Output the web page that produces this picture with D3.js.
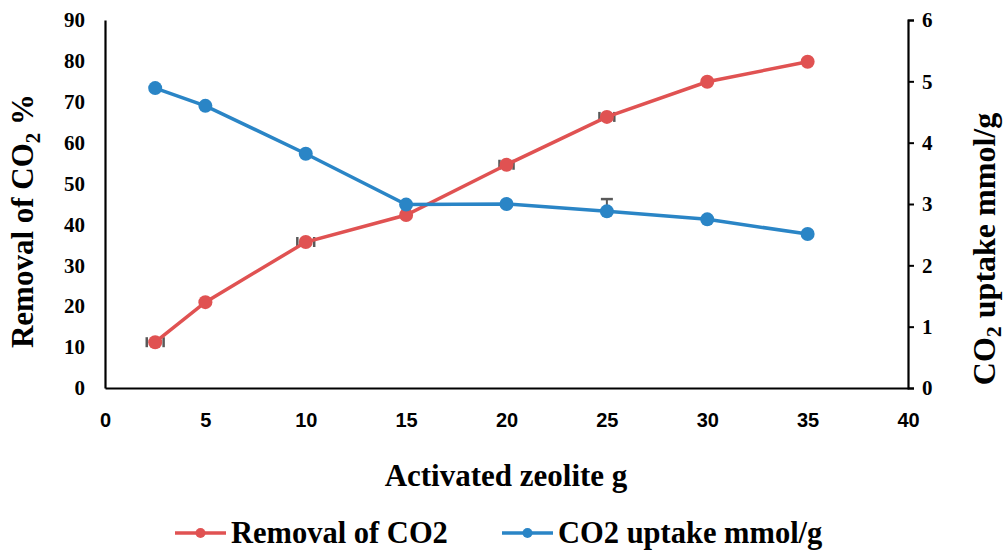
<!DOCTYPE html>
<html>
<head>
<meta charset="utf-8">
<script src="https://cdn.jsdelivr.net/npm/d3@7"></script>
<style>
  body { margin: 0; background: #fff; }
  svg { display: block; }
  .serif { font-family: "Liberation Serif", "Times New Roman", serif; font-weight: bold; }
  .narrow { font-family: "Liberation Sans Narrow", "Liberation Sans", Arial, sans-serif; font-weight: bold; }
</style>
</head>
<body>
<div id="chart"></div>
<script>
// data
const dose = [2.5, 5, 10, 15, 20, 25, 30, 35];
const removal = [11.2, 21.0, 35.7, 42.3, 54.6, 66.3, 74.9, 79.8];
const uptake = [4.89, 4.60, 3.82, 2.99, 3.00, 2.88, 2.75, 2.51];
// small error bars seen on the picture
const removalErrX = [0.42, 0, 0.42, 0, 0.35, 0.37, 0, 0];
const uptakeErrY = [0, 0, 0, 0, 0, 0.2, 0, 0];
const xTicks = [0, 5, 10, 15, 20, 25, 30, 35, 40];
const yLeftTicks = [0, 10, 20, 30, 40, 50, 60, 70, 80, 90];
const yRightTicks = [0, 1, 2, 3, 4, 5, 6];

const red = '#e05252', blue = '#2a85c6', grey = '#595959';

const width = 1006, height = 550;
const margin = { top: 20, right: 98, bottom: 162, left: 105 };
const innerW = width - margin.left - margin.right,
    innerH = height - margin.top - margin.bottom;

const svg = d3.select('#chart').append('svg')
    .attr('width', width)
    .attr('height', height);

const g = svg.append('g')
    .attr('transform', `translate(${margin.left},${margin.top})`);

const x = d3.scaleLinear().domain([0, 40]).range([0, innerW]);
const yL = d3.scaleLinear().domain([0, 90]).range([innerH, 0]);
const yR = d3.scaleLinear().domain([0, 6]).range([innerH, 0]);

// axes
const xAxis = g.append('g')
    .attr('transform', `translate(0,${innerH})`)
    .call(d3.axisBottom(x).tickValues(xTicks).tickSize(0).tickPadding(25));
xAxis.select('.domain').attr('stroke', '#000').attr('stroke-width', 2.2);
xAxis.selectAll('text').attr('class', 'narrow').attr('font-size', 20).attr('fill', '#000');

const yAxisL = g.append('g')
    .call(d3.axisLeft(yL).tickValues(yLeftTicks).tickSize(0).tickPadding(20));
yAxisL.select('.domain').attr('stroke', '#000').attr('stroke-width', 2.2);
yAxisL.selectAll('text').attr('class', 'serif').attr('font-size', 21).attr('fill', '#000');

const yAxisR = g.append('g')
    .attr('transform', `translate(${innerW},0)`)
    .call(d3.axisRight(yR).tickValues(yRightTicks).tickFormat(d3.format('d'))
        .tickSizeInner(6).tickSizeOuter(6).tickPadding(8));
yAxisR.select('.domain').attr('stroke', '#000').attr('stroke-width', 2.2);
yAxisR.selectAll('.tick line').attr('stroke', '#000').attr('stroke-width', 2);
yAxisR.selectAll('text').attr('class', 'serif').attr('font-size', 21).attr('fill', '#000');

// series
const redPts = dose.map((d, i) => ({ x: d, y: removal[i], ex: removalErrX[i] }));
const bluePts = dose.map((d, i) => ({ x: d, y: uptake[i], ey: uptakeErrY[i] }));

// error bars (drawn under the markers)
const errG = g.append('g');
redPts.filter(d => d.ex > 0).forEach(d => {
    const cy = yL(d.y);
    [d.x - d.ex, d.x + d.ex].forEach(v => {
        errG.append('line')
            .attr('x1', x(v)).attr('x2', x(v))
            .attr('y1', cy - 5).attr('y2', cy + 5)
            .attr('stroke', grey).attr('stroke-width', 2.5);
    });
});
bluePts.filter(d => d.ey > 0).forEach(d => {
    const cx = x(d.x);
    errG.append('line')
        .attr('x1', cx).attr('x2', cx)
        .attr('y1', yR(d.y)).attr('y2', yR(d.y + d.ey))
        .attr('stroke', grey).attr('stroke-width', 2);
    errG.append('line')
        .attr('x1', cx - 6).attr('x2', cx + 6)
        .attr('y1', yR(d.y + d.ey)).attr('y2', yR(d.y + d.ey))
        .attr('stroke', grey).attr('stroke-width', 2.5);
});

const lineRed = d3.line().x(d => x(d.x)).y(d => yL(d.y));
const lineBlue = d3.line().x(d => x(d.x)).y(d => yR(d.y));

g.append('path')
    .datum(redPts)
    .attr('d', lineRed)
    .attr('fill', 'none')
    .attr('stroke', red)
    .attr('stroke-width', 3.5);

g.append('path')
    .datum(bluePts)
    .attr('d', lineBlue)
    .attr('fill', 'none')
    .attr('stroke', blue)
    .attr('stroke-width', 3.5);

g.append('g').selectAll('circle')
    .data(redPts)
    .join('circle')
    .attr('cx', d => x(d.x))
    .attr('cy', d => yL(d.y))
    .attr('r', 7)
    .attr('fill', red);

g.append('g').selectAll('circle')
    .data(bluePts)
    .join('circle')
    .attr('cx', d => x(d.x))
    .attr('cy', d => yR(d.y))
    .attr('r', 7)
    .attr('fill', blue);

// axis titles
svg.append('text')
    .attr('class', 'serif')
    .attr('x', 506)
    .attr('y', 486)
    .attr('text-anchor', 'middle')
    .attr('font-size', 31)
    .text('Activated zeolite g');

const leftTitle = svg.append('text')
    .attr('class', 'serif')
    .attr('transform', `translate(33,221) rotate(-90)`)
    .attr('text-anchor', 'middle')
    .attr('font-size', 31);
leftTitle.append('tspan').text('Removal of CO');
leftTitle.append('tspan').attr('font-size', 21).attr('dy', 7).text('2');
leftTitle.append('tspan').attr('dy', -7).text(' %');

const rightTitle = svg.append('text')
    .attr('class', 'serif')
    .attr('transform', `translate(995,249) rotate(-90)`)
    .attr('text-anchor', 'middle')
    .attr('font-size', 32);
rightTitle.append('tspan').text('CO');
rightTitle.append('tspan').attr('font-size', 22).attr('dy', 6).text('2');
rightTitle.append('tspan').attr('dy', -6).text(' uptake mmol/g');

// legend
const legend = svg.append('g').attr('transform', 'translate(0,533)');
const items = [
    { label: 'Removal of CO2', color: red, x0: 175 },
    { label: 'CO2 uptake mmol/g', color: blue, x0: 502 }
];
items.forEach(it => {
    const li = legend.append('g').attr('transform', `translate(${it.x0},0)`);
    li.append('line')
        .attr('x1', 0).attr('x2', 51)
        .attr('y1', 0).attr('y2', 0)
        .attr('stroke', it.color).attr('stroke-width', 3.5);
    li.append('circle')
        .attr('cx', 25.5).attr('cy', 0).attr('r', 5)
        .attr('fill', it.color);
    li.append('text')
        .attr('class', 'serif')
        .attr('x', 56).attr('y', 10)
        .attr('font-size', 30.5)
        .text(it.label);
});
</script>
</body>
</html>
